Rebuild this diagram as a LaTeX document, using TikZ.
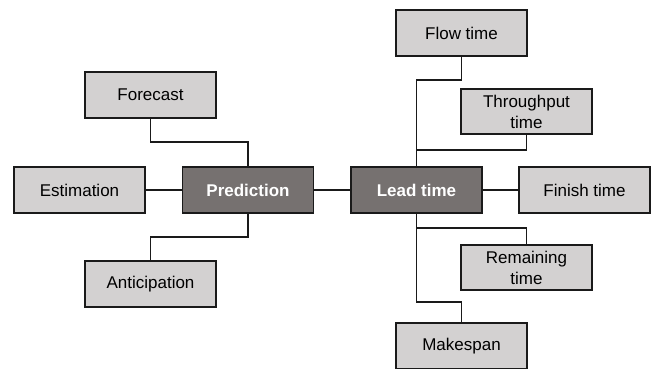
\documentclass[tikz,border=0pt]{standalone}
\usepackage{fontspec}
\setmainfont{Liberation Sans}
\definecolor{lightbox}{HTML}{D3D1D1}
\definecolor{darkbox}{HTML}{767170}
\definecolor{edgecol}{HTML}{1A1A1A}
\begin{document}
\begin{tikzpicture}[x=1pt,y=-1pt,
  leaf/.style={draw=edgecol,line width=1.6pt,fill=lightbox,minimum width=131pt,minimum height=46pt,inner sep=0pt,align=center,font=\fontsize{17}{21}\selectfont,text=black},
  hub/.style={leaf,fill=darkbox,text=white,font=\fontsize{17}{21}\selectfont\bfseries},
  link/.style={draw=edgecol,line width=1.4pt}]
\useasboundingbox (0,0) rectangle (656,368);
\fill[white] (0,0) rectangle (656,368);
\coordinate (c1) at (0,142);
\coordinate (c2) at (0,237);
\coordinate (c3) at (0,80);
\coordinate (c4) at (0,150);
\coordinate (c5) at (0,228);
\coordinate (c6) at (0,302);
\node[leaf] (forecast) at (150.5,95) {Forecast};
\node[leaf] (estimation) at (79.5,190) {Estimation};
\node[hub] (prediction) at (248,190) {Prediction};
\node[leaf] (anticipation) at (150.5,284) {Anticipation};
\node[leaf] (flow) at (461.5,33) {Flow time};
\node[leaf,minimum height=45pt] (through) at (526.5,111.5) {Throughput\\time};
\node[hub] (lead) at (416.5,190) {Lead time};
\node[leaf] (finish) at (584.5,190) {Finish time};
\node[leaf,minimum height=45pt] (remaining) at (526.5,267.5) {Remaining\\time};
\node[leaf] (makespan) at (461.5,346) {Makespan};
\draw[link] (forecast.south) -- (forecast.south |- c1) -| (prediction.north);
\draw[link] (prediction.south) -- (prediction.south |- c2) -| (anticipation.north);
\draw[link] (estimation.east) -- (prediction.west);
\draw[link] (prediction.east) -- (lead.west);
\draw[link] (flow.south) -- (flow.south |- c3) -| (lead.north);
\draw[link] (through.south) -- (through.south |- c4) -- (lead.north |- c4);
\draw[link] (lead.east) -- (finish.west);
\draw[link] (lead.south) -- (lead.south |- c6) -| (makespan.north);
\draw[link] (lead.south |- c5) -| (remaining.north);
\end{tikzpicture}
\end{document}
